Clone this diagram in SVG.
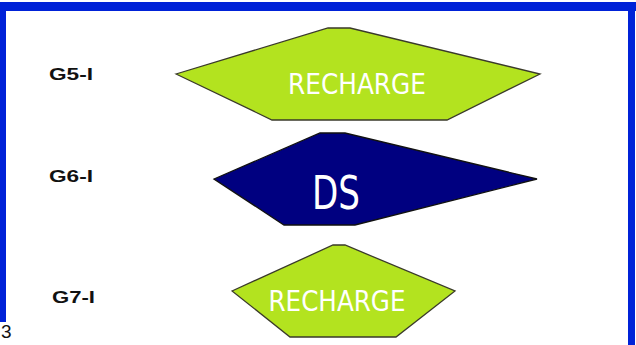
<svg xmlns="http://www.w3.org/2000/svg" width="636" height="345" viewBox="0 0 636 345">
<style>
.lbl{font-family:"Liberation Sans",Arial,sans-serif;font-weight:bold;font-size:17px;fill:#111}
.green{fill:#b3e31f;stroke:#3a3a2a;stroke-width:1.3}
.navy{fill:#000080;stroke:#111;stroke-width:1.3}
.t{font-family:"DejaVu Sans Condensed","DejaVu Sans",sans-serif;fill:#fff;text-anchor:middle}
</style>
<rect width="636" height="345" fill="#fff"/>
<g id="frame">
<rect x="0" y="2" width="636" height="9" fill="#0022d8"/>
<rect x="0" y="2" width="6" height="320" fill="#0022d8"/>
<rect x="628" y="2" width="7" height="343" fill="#0022d8"/>
<text x="1" y="338" font-family="Liberation Sans,Arial,sans-serif" font-size="19" fill="#111">3</text>
</g>
<g id="label-g5"><text class="lbl" x="49" y="80" textLength="44" lengthAdjust="spacingAndGlyphs">G5-I</text></g>
<g id="label-g6"><text class="lbl" x="49" y="182" textLength="44" lengthAdjust="spacingAndGlyphs">G6-I</text></g>
<g id="label-g7"><text class="lbl" x="52" y="303" textLength="43" lengthAdjust="spacingAndGlyphs">G7-I</text></g>
<g id="node-g5">
<polygon class="green" points="176,74 328,28 350,28 540,74 447,120 272,120"/>
<text class="t" x="357" y="94" font-size="28" textLength="138" lengthAdjust="spacingAndGlyphs">RECHARGE</text>
</g>
<g id="node-g6">
<polygon class="navy" points="214,179 320,133 345,133 537,179 355,225 284,225"/>
<text class="t" x="336" y="209" font-size="46" textLength="48" lengthAdjust="spacingAndGlyphs">DS</text>
</g>
<g id="node-g7">
<polygon class="green" points="232,291 333,245 345,245 455,291 396,337 290,337"/>
<text class="t" x="337" y="311" font-size="28" textLength="137" lengthAdjust="spacingAndGlyphs">RECHARGE</text>
</g>
<g id="connectors"></g>
</svg>
